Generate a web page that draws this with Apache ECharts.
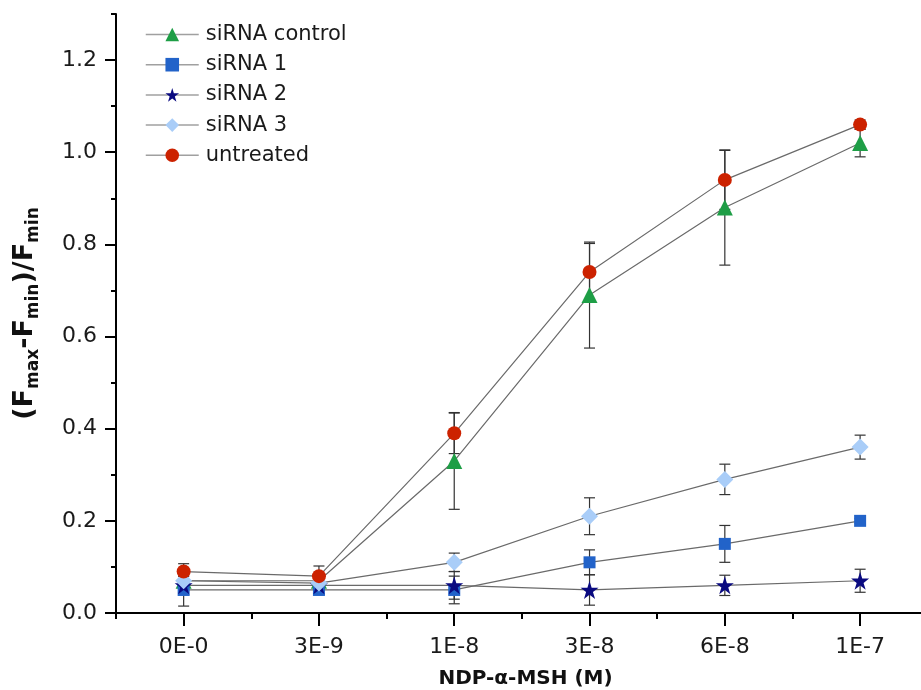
<!DOCTYPE html>
<html>
<head>
<meta charset="utf-8">
<script src="https://cdn.jsdelivr.net/npm/echarts@6/dist/echarts.min.js"></script>
<style>html,body{margin:0;padding:0;background:#fff;}#c{width:921px;height:690px;}</style>
</head>
<body>
<div id="c"></div>
<script>
// ---- data ----
const categories = ['0E-0', '3E-9', '1E-8', '3E-8', '6E-8', '1E-7'];
const seriesNames = ['siRNA control', 'siRNA 1', 'siRNA 2', 'siRNA 3', 'untreated'];
const siRNAcontrol = [0.07, 0.07, 0.33, 0.69, 0.88, 1.02];
const siRNA1 = [0.05, 0.05, 0.05, 0.11, 0.15, 0.20];
const siRNA2 = [0.06, 0.06, 0.06, 0.05, 0.06, 0.07];
const siRNA3 = [0.07, 0.065, 0.11, 0.21, 0.29, 0.36];
const untreated = [0.09, 0.08, 0.39, 0.74, 0.94, 1.06];
const errControl = [0.01, 0.01, 0.105, 0.115, 0.125, 0.03];
const err1 = [0.035, 0.01, 0.03, 0.027, 0.04, 0.005];
const err2 = [0.02, 0.01, 0.03, 0.033, 0.022, 0.025];
const err3 = [0.02, 0.01, 0.02, 0.04, 0.033, 0.026];
const errUntreated = [0.017, 0.022, 0.044, 0.062, 0.064, 0.01];
const yTickLabels = [0, 0.2, 0.4, 0.6, 0.8, 1.0, 1.2];
const yMinorTicks = [0.1, 0.3, 0.5, 0.7, 0.9, 1.1, 1.3];

// ---- styles ----
const FONT = 'DejaVu Sans';
const values = [siRNAcontrol, siRNA1, siRNA2, siRNA3, untreated];
const errors = [errControl, err1, err2, err3, errUntreated];
const symbols = ['triangle', 'rect', 'path://M50,0 L61.8,36.2 L100,36.2 L69.1,58.8 L80.9,95.1 L50,72.6 L19.1,95.1 L30.9,58.8 L0,36.2 L38.2,36.2 Z', 'diamond', 'circle'];
const sizes = [16, 12, 18, 17, 14];
const colors = ['#1e9e46', '#2263c9', '#0a0a80', '#a9cdf8', '#cc2200'];

const catIdx = categories.map((c, i) => i);

const series = [];
// error bars (drawn below markers)
values.forEach((vals, s) => {
  series.push({
    type: 'custom',
    xAxisIndex: 0, yAxisIndex: 0,
    z: 1,
    silent: true,
    data: vals.map((v, i) => [i, v, errors[s][i]]),
    renderItem: function (params, api) {
      const x = api.value(0), y = api.value(1), e = api.value(2);
      const top = api.coord([x, y + e]);
      const bot = api.coord([x, y - e]);
      const hw = 5.5;
      const st = { stroke: '#333', lineWidth: 1.2 };
      return {
        type: 'group',
        children: [
          { type: 'line', shape: { x1: top[0], y1: top[1], x2: bot[0], y2: bot[1] }, style: st },
          { type: 'line', shape: { x1: top[0] - hw, y1: top[1], x2: top[0] + hw, y2: top[1] }, style: st },
          { type: 'line', shape: { x1: bot[0] - hw, y1: bot[1], x2: bot[0] + hw, y2: bot[1] }, style: st }
        ]
      };
    }
  });
});
values.forEach((vals, s) => {
  series.push({
    name: seriesNames[s],
    type: 'line',
    xAxisIndex: 0, yAxisIndex: 0,
    z: 3,
    data: vals.map((v, i) => [i, v]),
    symbol: symbols[s],
    symbolSize: sizes[s],
    showAllSymbol: true,
    itemStyle: { color: colors[s], opacity: 1 },
    lineStyle: { color: '#6a6a6a', width: 1.2 },
    emphasis: { disabled: true }
  });
});

const chart = echarts.init(document.getElementById('c'), null, { renderer: 'canvas' });
chart.setOption({
  animation: false,
  backgroundColor: '#fff',
  textStyle: { fontFamily: FONT },
  grid: { left: 116, right: 0, top: 14, bottom: 77, containLabel: false, outerBoundsMode: 'none' },
  legend: {
    data: seriesNames,
    orient: 'vertical',
    left: 140,
    top: 19,
    itemWidth: 53,
    itemHeight: 17,
    itemGap: 9.2,
    textStyle: { fontFamily: FONT, fontSize: 21, color: '#1a1a1a', padding: [0, 0, 0, 2] },
    lineStyle: { color: '#a0a0a0', width: 1.5 }
  },
  xAxis: [{
    type: 'value',
    min: -0.5, max: 5.45,
    name: 'NDP-α-MSH (M)',
    nameLocation: 'middle',
    nameGap: 56,
    nameTextStyle: { fontFamily: FONT, fontSize: 20, fontWeight: 'bold', color: '#111', padding: [0, 0, 0, 14] },
    axisLine: { show: true, onZero: false, lineStyle: { color: '#000', width: 2 } },
    axisTick: { show: true, length: 13, customValues: catIdx, lineStyle: { color: '#000', width: 2 } },
    axisLabel: { show: true, customValues: catIdx, margin: 23, fontFamily: FONT, fontSize: 22, color: '#1a1a1a',
      formatter: v => categories[Math.round(v)] },
    splitLine: { show: false }
  }, {
    type: 'value',
    min: -0.5, max: 5.45,
    position: 'bottom',
    axisLine: { show: false, onZero: false },
    axisTick: { show: true, length: 6, customValues: [-0.5, 0.5, 1.5, 2.5, 3.5, 4.5], lineStyle: { color: '#000', width: 2 } },
    axisLabel: { show: false },
    splitLine: { show: false }
  }],
  yAxis: [{
    type: 'value',
    min: 0, max: 1.3,
    name: '(F{sub|max}-F{sub|min})/F{sub|min}',
    nameLocation: 'middle',
    nameGap: 74,
    nameRotate: 90,
    nameTextStyle: {
      fontFamily: FONT, fontSize: 27, fontWeight: 'bold', color: '#111', lineHeight: 34,
      rich: {
        sub: { fontFamily: FONT, fontSize: 17, fontWeight: 'bold', color: '#111', lineHeight: 17, verticalAlign: 'bottom' }
      }
    },
    axisLine: { show: true, onZero: false, lineStyle: { color: '#000', width: 2 } },
    axisTick: { show: true, length: 11, customValues: yTickLabels, lineStyle: { color: '#000', width: 2 } },
    axisLabel: { show: true, customValues: yTickLabels, margin: 19, fontFamily: FONT, fontSize: 22, color: '#1a1a1a',
      formatter: v => v.toFixed(1) },
    splitLine: { show: false }
  }, {
    type: 'value',
    min: 0, max: 1.3,
    position: 'left',
    axisLine: { show: false, onZero: false },
    axisTick: { show: true, length: 5, customValues: yMinorTicks, lineStyle: { color: '#000', width: 2 } },
    axisLabel: { show: false },
    splitLine: { show: false }
  }],
  series: series
});
</script>
</body>
</html>
